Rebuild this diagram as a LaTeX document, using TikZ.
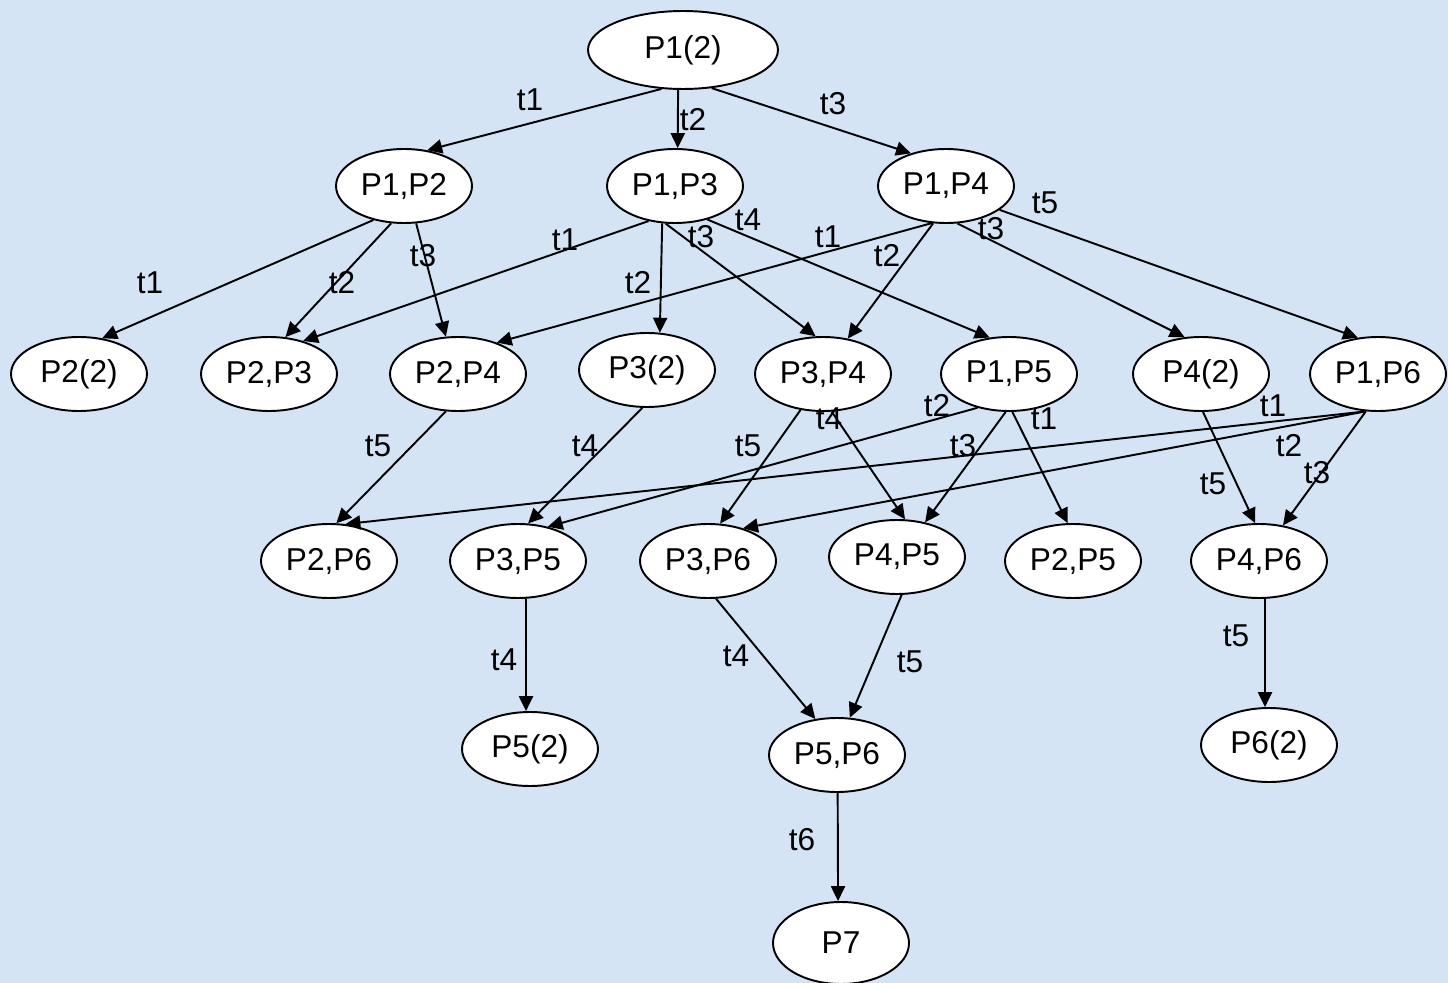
\documentclass[tikz,border=0pt]{standalone}
\usepackage{fontspec}
\setmainfont{Liberation Sans}
\usepackage{tikz}
\usetikzlibrary{shapes,arrows.meta}

\definecolor{paper}{RGB}{212,228,245}

\tikzset{
  state/.style={draw, ellipse, fill=white, line width=1.1pt, inner sep=0pt,
    minimum width=2.72cm, minimum height=1.48cm, font=\fontsize{18}{21}\selectfont},
  trans/.style={font=\fontsize{18}{21}\selectfont, inner sep=0pt},
  arc/.style={line width=1.1pt, -{Triangle[length=8.5pt,width=8pt]}}
}

\begin{document}
\begin{tikzpicture}[x=0.02cm, y=-0.02cm]
\fill[paper] (0,0) rectangle (1448,983);
\useasboundingbox (0,0) rectangle (1448,983);

% markings
\node[state, minimum width=3.8cm, minimum height=1.56cm] (p11) at (683,50) {P1(2)};

\node[state] (p12) at (404,186) {P1,P2};
\node[state] (p13) at (675,186) {P1,P3};
\node[state] (p14) at (946,186) {P1,P4};

\node[state] (p22) at (79,374) {P2(2)};
\node[state] (p23) at (269,374) {P2,P3};
\node[state] (p24) at (458,374) {P2,P4};
\node[state] (p33) at (647,370) {P3(2)};
\node[state] (p34) at (823,374) {P3,P4};
\node[state] (p15) at (1009,374) {P1,P5};
\node[state] (p44) at (1201,374) {P4(2)};
\node[state] (p16) at (1378,374) {P1,P6};

\node[state] (p26) at (329,561) {P2,P6};
\node[state] (p35) at (518,561) {P3,P5};
\node[state] (p36) at (708,561) {P3,P6};
\node[state] (p45) at (897,557) {P4,P5};
\node[state] (p25) at (1073,561) {P2,P5};
\node[state] (p46) at (1259,561) {P4,P6};

\node[state] (p55) at (530,749) {P5(2)};
\node[state] (p56) at (837,755) {P5,P6};
\node[state] (p66) at (1269,745) {P6(2)};

\node[state, minimum height=1.64cm] (p7) at (841,943) {P7};

% firings
\draw[arc] (p11.-119) -- (p12.57);
\draw[arc] (p11.-97) -- (p13.86);
\draw[arc] (p11.-53) -- (p14.137);

\draw[arc] (p12.-132) -- (p22.57);
\draw[arc] (p12.-109) -- (p23.66);
\draw[arc] (p12.-72) -- (p24.108);

\draw[arc] (p13.-127) -- (p23.44);
\draw[arc] (p13.-109) -- (p33.71);
\draw[arc] (p13.-104) -- (p34.101);
\draw[arc] (p13.-46) -- (p15.118);

\draw[arc] (p14.-111) -- (p24.39);
\draw[arc] (p14.-109) -- (p34.55);
\draw[arc] (p14.-73) -- (p44.114);
\draw[arc] (p14.-24) -- (p16.119);

\draw[arc] (p24.-108) -- (p26.79);
\draw[arc] (p33.-97) -- (p35.75);
\draw[arc] (p34.-122) -- (p36.72);
\draw[arc] (p34.-77) -- (p45.78);
\draw[arc] (p15.-133) -- (p35.49);
\draw[arc] (p15.-95) -- (p45.51);
\draw[arc] (p15.-85) -- (p25.98);
\draw[arc] (p44.-87) -- (p46.96);
\draw[arc] (p16.-108) -- (p26.66);
\draw[arc] (p16.-108) -- (p36.43);
\draw[arc] (p16.-108) -- (p46.56);

\draw[arc] (p35.-78) -- (p55.96);
\draw[arc] (p36.-78) -- (p56.121);
\draw[arc] (p45.-83) -- (p56.71);
\draw[arc] (p46.-81) -- (p66.96);
\draw[arc] (p56.-89) -- (p7.94);

% transition names
\node[trans] (a1) at (530,100) {t1};
\node[trans] (a2) at (693,120) {t2};
\node[trans] (a3) at (833,104) {t3};

\node[trans] (b1) at (150,283) {t1};
\node[trans] (b2) at (342,283) {t2};
\node[trans] (b3) at (423,256) {t3};
\node[trans] (c1) at (565,240) {t1};
\node[trans] (c2) at (638,283) {t2};
\node[trans] (c3) at (701,237) {t3};
\node[trans] (c4) at (748,220) {t4};
\node[trans] (d1) at (828,237) {t1};
\node[trans] (d2) at (887,256) {t2};
\node[trans] (d3) at (991,229) {t3};
\node[trans] (d5) at (1045,203) {t5};

\node[trans] (e5) at (378,446) {t5};
\node[trans] (f4) at (585,446) {t4};
\node[trans] (g5) at (748,446) {t5};
\node[trans] (g4) at (829,419) {t4};
\node[trans] (h2) at (937,406) {t2};
\node[trans] (h3) at (963,446) {t3};
\node[trans] (h1) at (1044,419) {t1};
\node[trans] (k5) at (1213,484) {t5};
\node[trans] (m1) at (1273,406) {t1};
\node[trans] (m2) at (1289,446) {t2};
\node[trans] (m3) at (1317,473) {t3};

\node[trans] (n4) at (504,660) {t4};
\node[trans] (q4) at (736,656) {t4};
\node[trans] (r5) at (910,662) {t5};
\node[trans] (s5) at (1236,636) {t5};
\node[trans] (u6) at (802,840) {t6};
\end{tikzpicture}
\end{document}
